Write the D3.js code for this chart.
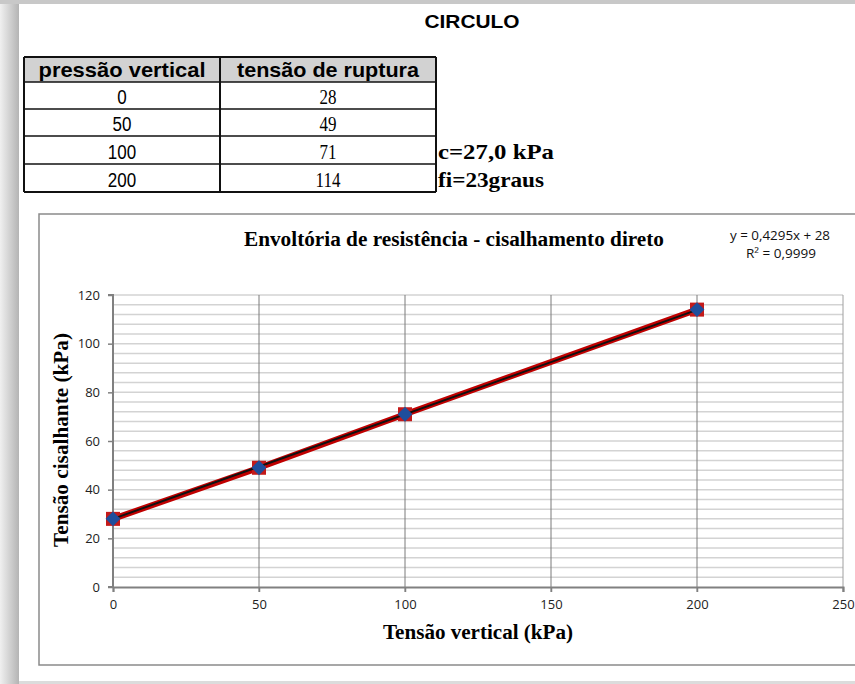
<!DOCTYPE html>
<html>
<head>
<meta charset="utf-8">
<script src="https://cdn.jsdelivr.net/npm/d3@7"></script>
<style>
  html, body { margin: 0; padding: 0; background: #fff; }
  svg { display: block; }
</style>
</head>
<body>
<div id="chart"></div>
<script>
// ---------------- dados ----------------
const pressao = [0, 50, 100, 200];
const tensao = [28, 49, 71, 114];
const tableHeaders = ['pressão vertical', 'tensão de ruptura'];
const sideNotes = ['c=27,0 kPa', 'fi=23graus'];
const trendSlope = 0.4295;
const trendIntercept = 28;
const xTicks = [0, 50, 100, 150, 200, 250];
const yTicks = [0, 20, 40, 60, 80, 100, 120];
const yMinorStep = 4;

const W = 855, H = 684;
const svg = d3.select('#chart').append('svg')
  .attr('width', W).attr('height', H);

// moldura da página
const defs = svg.append('defs');
const gL = defs.append('linearGradient').attr('id', 'gl').attr('x1', 0).attr('x2', 1);
gL.append('stop').attr('offset', 0).attr('stop-color', '#f0f0f0');
gL.append('stop').attr('offset', 1).attr('stop-color', '#b4b4b4');
svg.append('rect').attr('x', 0).attr('y', 0).attr('width', 19).attr('height', H).attr('fill', 'url(#gl)');
svg.append('rect').attr('x', 0).attr('y', 0).attr('width', W).attr('height', 4).attr('fill', '#c8c8c8');
svg.append('rect').attr('x', 19).attr('y', 681).attr('width', W).attr('height', 3).attr('fill', '#dcdcdc');

// título
svg.append('text').attr('x', 472).attr('y', 28)
  .attr('text-anchor', 'middle')
  .style('font', 'bold 19px "Liberation Sans", Arial, sans-serif')
  .attr('textLength', 95).attr('lengthAdjust', 'spacingAndGlyphs')
  .text('CIRCULO');

// ---------------- tabela ----------------
const colX = [24, 220, 436];
const rowY = [57, 82, 109, 136, 164, 192];
const tbl = svg.append('g');
tbl.append('rect').attr('x', colX[0]).attr('y', rowY[0])
  .attr('width', colX[2] - colX[0]).attr('height', rowY[1] - rowY[0])
  .attr('fill', '#d2d2d2');
rowY.forEach((y, i) => {
  tbl.append('line').attr('x1', colX[0]).attr('x2', colX[2]).attr('y1', y).attr('y2', y)
    .attr('stroke', '#111').attr('stroke-width', (i === 0 || i === rowY.length - 1) ? 2 : 1.5);
});
colX.forEach(x => {
  tbl.append('line').attr('x1', x).attr('x2', x).attr('y1', rowY[0]).attr('y2', rowY[rowY.length - 1])
    .attr('stroke', '#111').attr('stroke-width', 2);
});
const hdrW = [167, 182];
tableHeaders.forEach((h, i) => {
  tbl.append('text').attr('x', (colX[i] + colX[i + 1]) / 2).attr('y', rowY[1] - 5)
    .attr('text-anchor', 'middle')
    .style('font', 'bold 21px "Liberation Sans", Arial, sans-serif')
    .attr('textLength', hdrW[i]).attr('lengthAdjust', 'spacingAndGlyphs')
    .text(h);
});
pressao.forEach((p, i) => {
  const yb = rowY[i + 2] - 5;
  const t1 = tbl.append('text').attr('x', (colX[0] + colX[1]) / 2).attr('y', yb)
    .attr('text-anchor', 'middle')
    .style('font', '20px "Liberation Sans", Arial, sans-serif')
    .text(p);
  t1.attr('textLength', t1.node().getComputedTextLength() * 0.85).attr('lengthAdjust', 'spacingAndGlyphs');
  const t2 = tbl.append('text').attr('x', (colX[1] + colX[2]) / 2).attr('y', yb)
    .attr('text-anchor', 'middle')
    .style('font', '20px "Liberation Serif", "Times New Roman", serif')
    .text(tensao[i]);
  t2.attr('textLength', t2.node().getComputedTextLength() * 0.85).attr('lengthAdjust', 'spacingAndGlyphs');
});
sideNotes.forEach((t, i) => {
  svg.append('text').attr('x', 438).attr('y', rowY[4 + i] - 5)
    .style('font', 'bold 21px "Liberation Serif", "Times New Roman", serif')
    .attr('textLength', i === 0 ? 116 : 106).attr('lengthAdjust', 'spacingAndGlyphs')
    .text(t);
});

// ---------------- gráfico ----------------
svg.append('rect').attr('x', 39).attr('y', 214).attr('width', 830).attr('height', 451)
  .attr('fill', '#fff').attr('stroke', '#8a8a8a').attr('stroke-width', 1.5);

const x = d3.scaleLinear().domain([0, 250]).range([113, 843]);
const y = d3.scaleLinear().domain([0, 120]).range([587, 295]);

// grade horizontal
const minor = d3.range(yMinorStep, 120 + 0.1, yMinorStep);
svg.append('g').selectAll('line').data(minor).join('line')
  .attr('x1', x(0)).attr('x2', x(250))
  .attr('y1', d => y(d)).attr('y2', d => y(d))
  .attr('stroke', '#d3d3d3').attr('stroke-width', 1.5);

// grade vertical
svg.append('g').selectAll('line').data(xTicks.slice(1)).join('line')
  .attr('x1', d => x(d)).attr('x2', d => x(d))
  .attr('y1', y(120)).attr('y2', y(0) + 5)
  .attr('stroke', d => d === 250 ? '#a0a0a0' : '#7a7a7a').attr('stroke-width', 1);

// eixos
const axX = svg.append('g').attr('transform', `translate(0,${y(0)})`)
  .call(d3.axisBottom(x).tickValues(xTicks).tickSize(5).tickPadding(8));
const axY = svg.append('g').attr('transform', `translate(${x(0)},0)`)
  .call(d3.axisLeft(y).tickValues(yTicks).tickSize(5).tickPadding(8));
[axX, axY].forEach(a => {
  a.select('.domain').attr('stroke', '#808080').attr('stroke-width', 2);
  a.selectAll('.tick line').attr('stroke', '#808080').attr('stroke-width', 1.5);
  a.selectAll('.tick text')
    .style('font', '13px "Open Sans", Calibri, sans-serif').attr('fill', '#222');
});
axY.select('.domain').attr('d', `M-5,${y(120)}H0V${y(0)}H-5`);

// títulos
svg.append('text').attr('x', 454).attr('y', 246)
  .attr('text-anchor', 'middle')
  .style('font', 'bold 20px "Liberation Serif", "Times New Roman", serif')
  .attr('textLength', 420).attr('lengthAdjust', 'spacingAndGlyphs')
  .text('Envoltória de resistência - cisalhamento direto');
svg.append('text').attr('x', 478).attr('y', 639)
  .attr('text-anchor', 'middle')
  .style('font', 'bold 20px "Liberation Serif", "Times New Roman", serif')
  .attr('textLength', 190).attr('lengthAdjust', 'spacingAndGlyphs')
  .text('Tensão vertical (kPa)');
svg.append('text')
  .attr('transform', 'translate(68,440) rotate(-90)')
  .attr('text-anchor', 'middle')
  .style('font', 'bold 20px "Liberation Serif", "Times New Roman", serif')
  .attr('textLength', 214).attr('lengthAdjust', 'spacingAndGlyphs')
  .text('Tensão cisalhante (kPa)');

// equação da linha de tendência
svg.append('text').attr('x', 780).attr('y', 240)
  .attr('text-anchor', 'middle')
  .style('font', '12px "Open Sans", Calibri, sans-serif').attr('fill', '#111')
  .attr('textLength', 100).attr('lengthAdjust', 'spacingAndGlyphs')
  .text('y = 0,4295x + 28');
svg.append('text').attr('x', 781).attr('y', 258)
  .attr('text-anchor', 'middle')
  .style('font', '12px "Open Sans", Calibri, sans-serif').attr('fill', '#111')
  .attr('textLength', 70).attr('lengthAdjust', 'spacingAndGlyphs')
  .text('R² = 0,9999');

// séries
const pts = pressao.map((p, i) => [p, tensao[i]]);
const line = d3.line().x(d => x(d[0])).y(d => y(d[1]));
svg.append('path').datum(pts).attr('d', line)
  .attr('fill', 'none').attr('stroke', '#c00000').attr('stroke-width', 6);

svg.selectAll('.sq').data(pts).join('rect').attr('class', 'sq')
  .attr('x', d => x(d[0]) - 7).attr('y', d => y(d[1]) - 7)
  .attr('width', 14).attr('height', 14).attr('fill', '#c41a1a');

const tx = d3.extent(pressao);
svg.append('path').datum(tx.map(v => [v, trendSlope * v + trendIntercept])).attr('d', line)
  .attr('fill', 'none').attr('stroke', '#111').attr('stroke-width', 2);

svg.selectAll('.dm').data(pts).join('path').attr('class', 'dm')
  .attr('d', d3.symbol(d3.symbolDiamond2, 140))
  .attr('transform', d => `translate(${x(d[0])},${y(d[1])})`)
  .attr('fill', '#1f4e9c');
</script>
</body>
</html>
